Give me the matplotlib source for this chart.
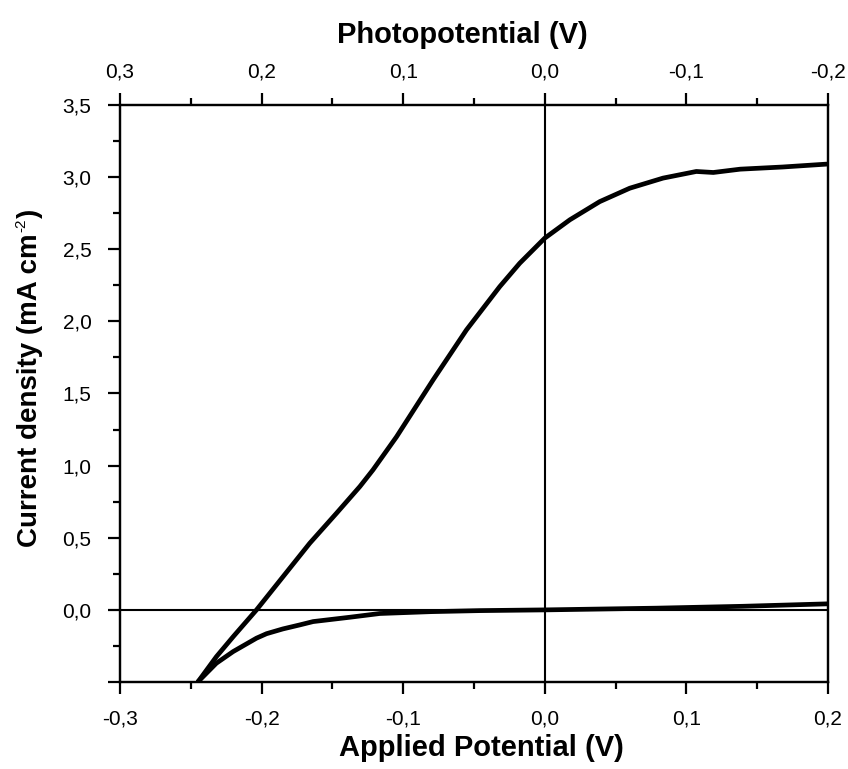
import matplotlib
matplotlib.use("Agg")
import matplotlib.pyplot as plt
from matplotlib.ticker import MultipleLocator, FuncFormatter

plt.rcParams['font.family'] = ['Liberation Sans', 'DejaVu Sans']

# light (illuminated) curve
light_v = [-0.2448, -0.2319, -0.220, -0.2036, -0.1848, -0.166, -0.1471, -0.1306, -0.1213,
           -0.1047, -0.0789, -0.0553, -0.0318, -0.0177, 0.0, 0.0177, 0.0388, 0.060,
           0.0835, 0.107, 0.119, 0.138, 0.168, 0.199]
light_j = [-0.497, -0.324, -0.185, 0.0, 0.231, 0.462, 0.670, 0.855, 0.971,
           1.20, 1.594, 1.941, 2.241, 2.403, 2.577, 2.704, 2.830, 2.923,
           2.993, 3.039, 3.032, 3.055, 3.07, 3.09]

# dark curve
dark_v = [-0.2448, -0.232, -0.2201, -0.2036, -0.1965, -0.1850, -0.173, -0.1636, -0.1377,
          -0.1165, -0.080, -0.046, 0.0, 0.079, 0.140, 0.2]
dark_j = [-0.497, -0.37, -0.289, -0.196, -0.165, -0.132, -0.104, -0.081, -0.051,
          -0.025, -0.012, -0.005, 0.0, 0.012, 0.025, 0.042]

def comma(v, pos):
    s = f"{v:.1f}"
    if s == "-0.0":
        s = "0.0"
    return s.replace('.', ',')

def yfmt(v, pos):
    if v < 0:
        return ""
    return comma(v, pos)

fig = plt.figure(figsize=(8.48, 7.69), dpi=100)
ax = fig.add_axes([0.1415, 0.1131, 0.8349, 0.7504])

ax.axhline(0, color='black', lw=1.5, zorder=1)
ax.axvline(0, color='black', lw=1.5, zorder=1)
ax.plot(light_v, light_j, color='black', lw=3.4, solid_capstyle='round', solid_joinstyle='round')
ax.plot(dark_v, dark_j, color='black', lw=3.4, solid_capstyle='round', solid_joinstyle='round')

ax.set_xlim(-0.3, 0.2)
ax.set_ylim(-0.5, 3.5)

ax.xaxis.set_major_locator(MultipleLocator(0.1))
ax.xaxis.set_minor_locator(MultipleLocator(0.05))
ax.yaxis.set_major_locator(MultipleLocator(0.5))
ax.yaxis.set_minor_locator(MultipleLocator(0.25))
ax.xaxis.set_major_formatter(FuncFormatter(comma))
ax.yaxis.set_major_formatter(FuncFormatter(yfmt))

for s in ax.spines.values():
    s.set_linewidth(1.6)
ax.tick_params(which='major', direction='out', length=8.6, width=1.6, labelsize=15)
ax.tick_params(which='minor', direction='out', length=5, width=1.6)
ax.tick_params(axis='x', which='major', pad=11)
ax.tick_params(axis='y', which='major', pad=12)
ax.tick_params(which='both', right=False)

top = ax.twiny()
top.set_xlim(0.3, -0.2)
top.xaxis.set_major_locator(MultipleLocator(0.1))
top.xaxis.set_minor_locator(MultipleLocator(0.05))
top.xaxis.set_major_formatter(FuncFormatter(comma))
for s in top.spines.values():
    s.set_linewidth(1.6)
top.tick_params(which='major', direction='out', length=8.6, width=1.6, labelsize=15, pad=8.5)
top.tick_params(which='minor', direction='out', length=5, width=1.6)
top.set_xlabel("Photopotential (V)", fontsize=21, fontweight='bold')
top.xaxis.set_label_coords(0.484, 1.107)

ax.set_xlabel("Applied Potential (V)", fontsize=21, fontweight='bold')
ax.xaxis.set_label_coords(0.511, -0.090)

# y label built in pieces so the superscript stays small
renderer = fig.canvas.get_renderer()
t1 = fig.text(37 / 848, 222 / 769, "Current density (mA cm", rotation=90,
              rotation_mode='anchor', ha='left', va='baseline',
              fontsize=20, fontweight='bold')
b1 = t1.get_window_extent(renderer)
t2 = fig.text((37 - 12) / 848, (b1.y1 + 1) / 769, "-2", rotation=90,
              rotation_mode='anchor', ha='left', va='baseline', fontsize=11)
b2 = t2.get_window_extent(renderer)
fig.text(37 / 848, (b2.y1 + 1) / 769, ")", rotation=90,
         rotation_mode='anchor', ha='left', va='baseline',
         fontsize=20, fontweight='bold')

fig.savefig("out.png", dpi=100)
